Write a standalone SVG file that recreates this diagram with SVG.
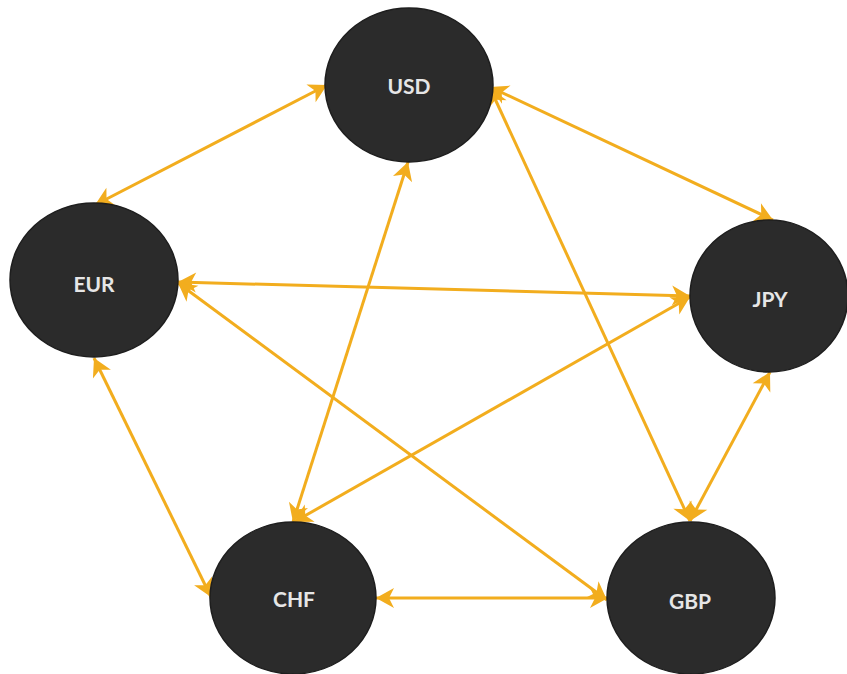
<svg xmlns="http://www.w3.org/2000/svg" width="847" height="674" viewBox="0 0 847 674">
<style>
.node ellipse{fill:#2b2b2b;stroke:#1e1e1e;stroke-width:1.5}
.node text{fill:#e6e6e6;font-family:Lato,"Open Sans","Liberation Sans",sans-serif;font-weight:bold;font-size:21px;text-anchor:middle;dominant-baseline:central}
.edges line{stroke:#F2AD1E;stroke-width:3;marker-start:url(#ah);marker-end:url(#ah)}
</style>
<defs>
<marker id="ah" viewBox="-20 -11 22 22" refX="0" refY="0" markerWidth="22" markerHeight="22" markerUnits="userSpaceOnUse" orient="auto-start-reverse">
<path d="M0,0 L-18,-10 L-13,0 L-18,10 Z" fill="#F2AD1E"/>
</marker>
</defs>
<rect width="847" height="674" fill="#ffffff"/>
<g class="edges">
<line x1="95" y1="205" x2="327" y2="85"/>
<line x1="490" y1="87" x2="773" y2="220"/>
<line x1="293" y1="522" x2="408" y2="162"/>
<line x1="490" y1="88" x2="690" y2="521"/>
<line x1="178" y1="282" x2="690" y2="296"/>
<line x1="94" y1="358" x2="211" y2="597"/>
<line x1="178" y1="283" x2="607" y2="600"/>
<line x1="690" y1="297" x2="294" y2="522"/>
<line x1="770" y1="372" x2="690" y2="521"/>
<line x1="376" y1="598" x2="608" y2="598"/>
</g>
<g id="USD" class="node"><ellipse cx="409" cy="85" rx="84" ry="77"/><text x="409" y="85">USD</text></g>
<g id="EUR" class="node"><ellipse cx="94" cy="280" rx="84" ry="77"/><text x="94" y="283">EUR</text></g>
<g id="JPY" class="node"><ellipse cx="769" cy="296" rx="79" ry="76"/><text x="770" y="298">JPY</text></g>
<g id="CHF" class="node"><ellipse cx="293" cy="598" rx="83" ry="76"/><text x="294" y="598">CHF</text></g>
<g id="GBP" class="node"><ellipse cx="691" cy="598" rx="84" ry="76"/><text x="690" y="600">GBP</text></g>
</svg>
